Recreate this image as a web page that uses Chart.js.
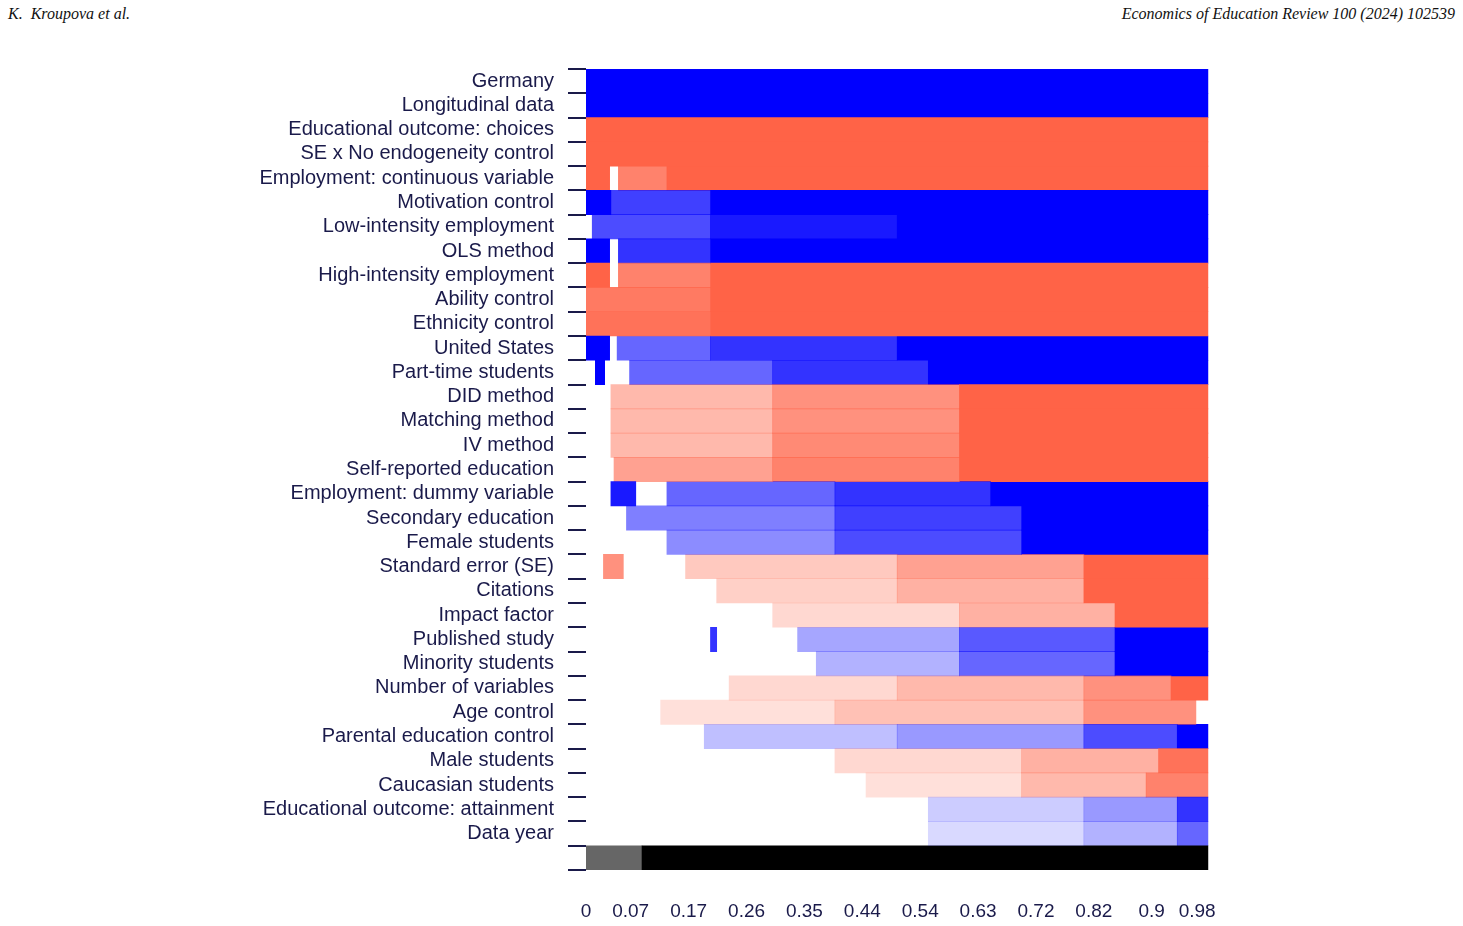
<!DOCTYPE html>
<html><head><meta charset="utf-8">
<script src="https://cdn.jsdelivr.net/npm/chart.js@4/dist/chart.umd.min.js"></script>
<style>
body{margin:0;background:#fff;width:1463px;height:926px;position:relative;overflow:hidden}
.h{position:absolute;top:5px;font:italic 16px "Liberation Serif",serif;color:#111}
#wrap{position:absolute;left:240px;top:43px;width:998px;height:887px}
</style></head><body>
<div class="h" style="left:8px">K.&nbsp; Kroupova et al.</div>
<div class="h" style="right:8px">Economics of Education Review 100 (2024) 102539</div>
<div id="wrap"><canvas id="c"></canvas></div>
<script>
const categories=["Germany","Longitudinal data","Educational outcome: choices","SE x No endogeneity control","Employment: continuous variable","Motivation control","Low-intensity employment","OLS method","High-intensity employment","Ability control","Ethnicity control","United States","Part-time students","DID method","Matching method","IV method","Self-reported education","Employment: dummy variable","Secondary education","Female students","Standard error (SE)","Citations","Impact factor","Published study","Minority students","Number of variables","Age control","Parental education control","Male students","Caucasian students","Educational outcome: attainment","Data year",""];
// segments per row: [start, end, sign (1 positive, -1 negative, 0 model rug), density]
const segments=[
[[0,1,-1,1]],
[[0,1,-1,1]],
[[0,1,1,1]],
[[0,1,1,1]],
[[0,0.038,1,1],[0.052,0.13,1,0.8],[0.13,1,1,1]],
[[0,0.04,-1,1],[0.04,0.2,-1,0.75],[0.2,1,-1,1]],
[[0.01,0.2,-1,0.7],[0.2,0.5,-1,0.9],[0.5,1,-1,1]],
[[0,0.038,-1,1],[0.052,0.2,-1,0.8],[0.2,1,-1,1]],
[[0,0.038,1,1],[0.052,0.2,1,0.8],[0.2,1,1,1]],
[[0,0.2,1,0.85],[0.2,1,1,1]],
[[0,0.2,1,0.9],[0.2,1,1,1]],
[[0,0.038,-1,1],[0.05,0.2,-1,0.6],[0.2,0.5,-1,0.8],[0.5,1,-1,1]],
[[0.015,0.03,-1,1],[0.07,0.3,-1,0.6],[0.3,0.55,-1,0.8],[0.55,1,-1,1]],
[[0.04,0.3,1,0.45],[0.3,0.6,1,0.7],[0.6,1,1,1]],
[[0.04,0.3,1,0.45],[0.3,0.6,1,0.7],[0.6,1,1,1]],
[[0.04,0.3,1,0.45],[0.3,0.6,1,0.75],[0.6,1,1,1]],
[[0.045,0.3,1,0.6],[0.3,0.6,1,0.8],[0.6,1,1,1]],
[[0.04,0.08,-1,0.9],[0.13,0.4,-1,0.6],[0.4,0.65,-1,0.8],[0.65,1,-1,1]],
[[0.065,0.4,-1,0.5],[0.4,0.7,-1,0.75],[0.7,1,-1,1]],
[[0.13,0.4,-1,0.45],[0.4,0.7,-1,0.7],[0.7,1,-1,1]],
[[0.028,0.06,1,0.7],[0.16,0.5,1,0.35],[0.5,0.8,1,0.6],[0.8,1,1,1]],
[[0.21,0.5,1,0.3],[0.5,0.8,1,0.5],[0.8,1,1,1]],
[[0.3,0.6,1,0.25],[0.6,0.85,1,0.5],[0.85,1,1,1]],
[[0.2,0.21,-1,0.8],[0.34,0.6,-1,0.35],[0.6,0.85,-1,0.65],[0.85,1,-1,1]],
[[0.37,0.6,-1,0.3],[0.6,0.85,-1,0.6],[0.85,1,-1,1]],
[[0.23,0.5,1,0.25],[0.5,0.8,1,0.45],[0.8,0.94,1,0.7],[0.94,1,1,1]],
[[0.12,0.4,1,0.2],[0.4,0.8,1,0.4],[0.8,0.98,1,0.7]],
[[0.19,0.5,-1,0.25],[0.5,0.8,-1,0.4],[0.8,0.95,-1,0.7],[0.95,1,-1,1]],
[[0.4,0.7,1,0.25],[0.7,0.92,1,0.5],[0.92,1,1,0.9]],
[[0.45,0.7,1,0.2],[0.7,0.9,1,0.45],[0.9,1,1,0.8]],
[[0.55,0.8,-1,0.2],[0.8,0.95,-1,0.4],[0.95,1,-1,0.8]],
[[0.55,0.8,-1,0.15],[0.8,0.95,-1,0.3],[0.95,1,-1,0.6]],
[[0,0.09,0,0.6],[0.09,1,0,1]]
];
const tickPositions=[0,0.0717,0.165,0.258,0.351,0.444,0.537,0.63,0.723,0.816,0.909,0.982];
const tickLabels=["0","0.07","0.17","0.26","0.35","0.44","0.54","0.63","0.72","0.82","0.9","0.98"];

function col(s,d){
  if(s===0) return `rgba(0,0,0,${d})`;
  return s>0?`rgba(255,99,71,${d})`:`rgba(0,0,255,${d})`;
}
const maxSeg=Math.max(...segments.map(r=>r.length));
const datasets=[];
for(let k=0;k<maxSeg;k++){
  datasets.push({
    data:segments.map(r=>r[k]?[r[k][0],r[k][1]]:null),
    backgroundColor:segments.map(r=>r[k]?col(r[k][2],r[k][3]):'transparent'),
    borderWidth:0,grouped:false,barPercentage:1,categoryPercentage:1
  });
}
new Chart(document.getElementById('c'),{
  type:'bar',
  data:{labels:categories,datasets},
  options:{
    indexAxis:'y',responsive:true,maintainAspectRatio:false,animation:false,
    layout:{padding:{right:20,top:0,bottom:0}},
    plugins:{legend:{display:false},tooltip:{enabled:false}},
    scales:{
      x:{type:'linear',min:0,max:1,
        afterBuildTicks:s=>{s.ticks=tickPositions.map(v=>({value:v}));},
        afterFit:s=>{s.height=60;},
        ticks:{autoSkip:false,maxRotation:0,padding:22,color:'#1a1a4a',font:{family:'Liberation Sans, Arial',size:19},
          callback:(v,i)=>tickLabels[i]},
        grid:{display:false},border:{display:false}},
      y:{afterFit:s=>{s.width=346;},
        ticks:{autoSkip:false,color:'#1a1a4a',padding:14,font:{family:'Liberation Sans, Arial',size:20}},
        grid:{drawOnChartArea:false,tickLength:18,color:'#1a1a4a',lineWidth:2},
        border:{display:false}}
    }
  }
});
</script></body></html>
